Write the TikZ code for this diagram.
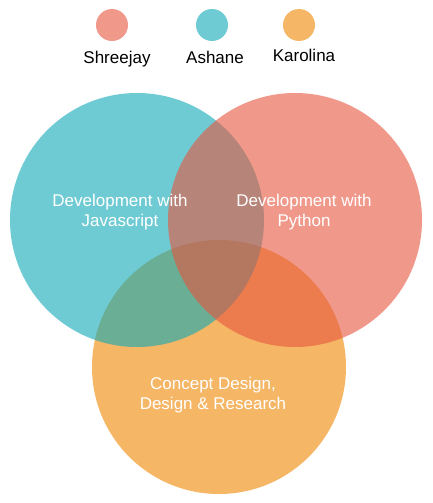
\documentclass[tikz,border=0pt]{standalone}
\usepackage{fontspec}
\setmainfont{Liberation Sans}
\definecolor{ShreeRed}{RGB}{230,85,62}
\definecolor{AshTeal}{RGB}{15,168,181}
\definecolor{KaroOrange}{RGB}{238,133,0}
\begin{document}
\begin{tikzpicture}[
x=1pt,y=-1pt,
set/.style={circle,minimum size=254pt,inner sep=0pt,fill opacity=0.6},
key/.style={circle,minimum size=32pt,inner sep=0pt,fill opacity=0.6},
keytext/.style={font=\fontsize{17}{20}\selectfont,text=black,inner sep=0pt},
settext/.style={font=\fontsize{17}{20}\selectfont,text=white,align=center,inner sep=0pt}
]
\useasboundingbox (0,0) rectangle (432,503);
% legend
\node[key,fill=ShreeRed] (kshree) at (112,25) {};
\node[key,fill=AshTeal] (kash) at (212,25) {};
\node[key,fill=KaroOrange] (kkaro) at (299,25) {};
\node[keytext] (lshree) at (117,59) {Shreejay};
\node[keytext] (lash) at (215,57) {Ashane};
\node[keytext] (lkaro) at (304,55) {Karolina};
% venn
\node[set,fill=KaroOrange] (karo) at (219,367) {};
\node[set,fill=AshTeal] (ash) at (137,220) {};
\node[set,fill=ShreeRed] (shree) at (295,220) {};
\node[settext] (tash) at (120,212) {Development with\\Javascript};
\node[settext] (tshree) at (304,212) {Development with\\Python};
\node[settext] (tkaro) at (213,395) {Concept Design,\\Design \& Research};
\end{tikzpicture}
\end{document}
